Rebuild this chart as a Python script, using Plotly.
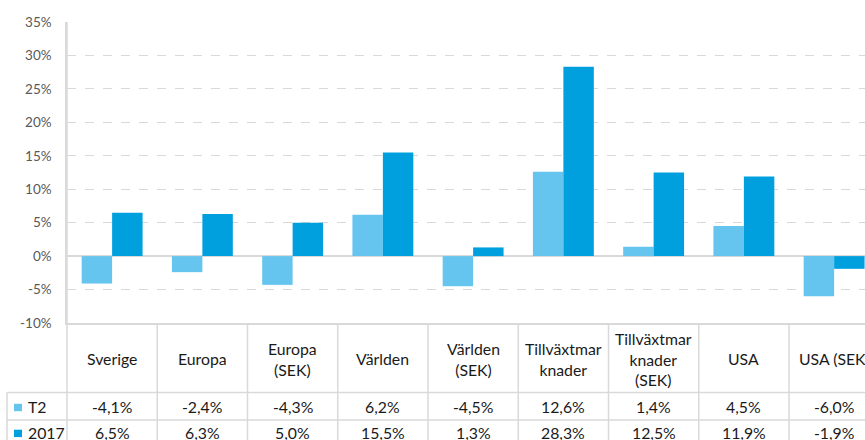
import plotly.graph_objects as go

categories = ["Sverige", "Europa", "Europa (SEK)", "Världen", "Världen (SEK)",
              "Tillväxtmarknader", "Tillväxtmarknader (SEK)", "USA", "USA (SEK)"]
header_labels = ["Sverige", "Europa", "Europa<br>(SEK)", "Världen", "Världen<br>(SEK)",
                 "Tillväxtmar<br>knader", "Tillväxtmar<br>knader<br>(SEK)", "USA", "USA (SEK)"]
t2_values = [-4.1, -2.4, -4.3, 6.2, -4.5, 12.6, 1.4, 4.5, -6.0]
y2017_values = [6.5, 6.3, 5.0, 15.5, 1.3, 28.3, 12.5, 11.9, -1.9]
series_names = ["T2", "2017"]
y_ticks = [-10, -5, 0, 5, 10, 15, 20, 25, 30, 35]

C_T2 = "#66C5EE"
C_17 = "#00A0DF"
GRID = "#D9D9D9"
FONT = "Lato, 'Open Sans', sans-serif"
TFS = 15.8
TXT = "#1a1a1a"

W, H = 865, 440
L, R, T, B = 67, 0, 22, 117
plot_h = H - T - B


def py(pix):
    return (H - B - pix) / plot_h


def px(pix):
    return (pix - L) / (W - L - R)


def fmt(v):
    return f"{v:.1f}%".replace(".", ",")


fig = go.Figure()
fig.add_trace(go.Bar(x=categories, y=t2_values, name=series_names[0],
                     marker=dict(color=C_T2, line=dict(width=0))))
fig.add_trace(go.Bar(x=categories, y=y2017_values, name=series_names[1],
                     marker=dict(color=C_17, line=dict(width=0))))

shapes = []
annotations = []
for yp in [392.5, 420]:
    shapes.append(dict(type="line", xref="paper", yref="paper", x0=px(7), x1=1,
                       y0=py(yp), y1=py(yp), line=dict(color=GRID, width=1.5)))
shapes.append(dict(type="line", xref="paper", yref="paper", x0=px(7), x1=px(7),
                   y0=py(392.5), y1=py(445), line=dict(color=GRID, width=1.5)))
shapes.append(dict(type="line", xref="paper", yref="paper", x0=0, x1=0,
                   y0=1, y1=py(445), line=dict(color=GRID, width=1.5)))
for i in range(len(categories)):
    shapes.append(dict(type="line", xref="x", yref="paper", x0=i + 0.5, x1=i + 0.5,
                       y0=0, y1=py(445), line=dict(color=GRID, width=1.5)))

ROW1, ROW2 = 406.5, 432.5
for i, cat in enumerate(categories):
    annotations.append(dict(x=cat, y=py(358.5), xref="x", yref="paper",
                            text=header_labels[i], showarrow=False,
                            font=dict(size=TFS, color=TXT, family=FONT),
                            xanchor="center", yanchor="middle"))
    annotations.append(dict(x=cat, y=py(ROW1), xref="x", yref="paper",
                            text=fmt(t2_values[i]), showarrow=False,
                            font=dict(size=TFS, color=TXT, family=FONT),
                            xanchor="center", yanchor="middle"))
    annotations.append(dict(x=cat, y=py(ROW2), xref="x", yref="paper",
                            text=fmt(y2017_values[i]), showarrow=False,
                            font=dict(size=TFS, color=TXT, family=FONT),
                            xanchor="center", yanchor="middle"))

for name, col, yc, sq in [(series_names[0], C_T2, ROW1, 407.5),
                          (series_names[1], C_17, ROW2, 433.4)]:
    shapes.append(dict(type="rect", xref="paper", yref="paper",
                       x0=px(14), x1=px(22), y0=py(sq + 3.7), y1=py(sq - 3.7),
                       fillcolor=col, line=dict(width=0)))
    annotations.append(dict(x=px(26), y=py(yc), xref="paper", yref="paper",
                            text=name, showarrow=False,
                            font=dict(size=TFS, color=TXT, family=FONT),
                            xanchor="left", yanchor="middle"))

fig.update_layout(
    width=W, height=H,
    margin=dict(l=L, r=R, t=T, b=B, pad=0),
    paper_bgcolor="white", plot_bgcolor="white",
    barmode="group", bargap=0.325, bargroupgap=0,
    showlegend=False,
    font=dict(family=FONT),
    shapes=shapes, annotations=annotations,
    xaxis=dict(range=[-0.5, -0.5 + (W - L - R) / 90.25], showticklabels=False,
               showgrid=False, zeroline=False, showline=True, linecolor=GRID,
               linewidth=1.5, ticks=""),
    yaxis=dict(range=[-10, 35], tickvals=y_ticks,
               ticktext=[f"{v}%" for v in y_ticks],
               showgrid=True, gridcolor=GRID, griddash="dash", gridwidth=1,
               zeroline=True, zerolinecolor=GRID, zerolinewidth=1.5,
               showline=True, linecolor=GRID, linewidth=1.5,
               ticks="outside", ticklen=11, tickcolor="rgba(0,0,0,0)",
               tickfont=dict(size=13.5, color="#595959", family=FONT)),
)

fig.write_html("out.html", config={"displayModeBar": False},
               post_script="document.body.style.margin='0';document.body.style.overflow='hidden';")
